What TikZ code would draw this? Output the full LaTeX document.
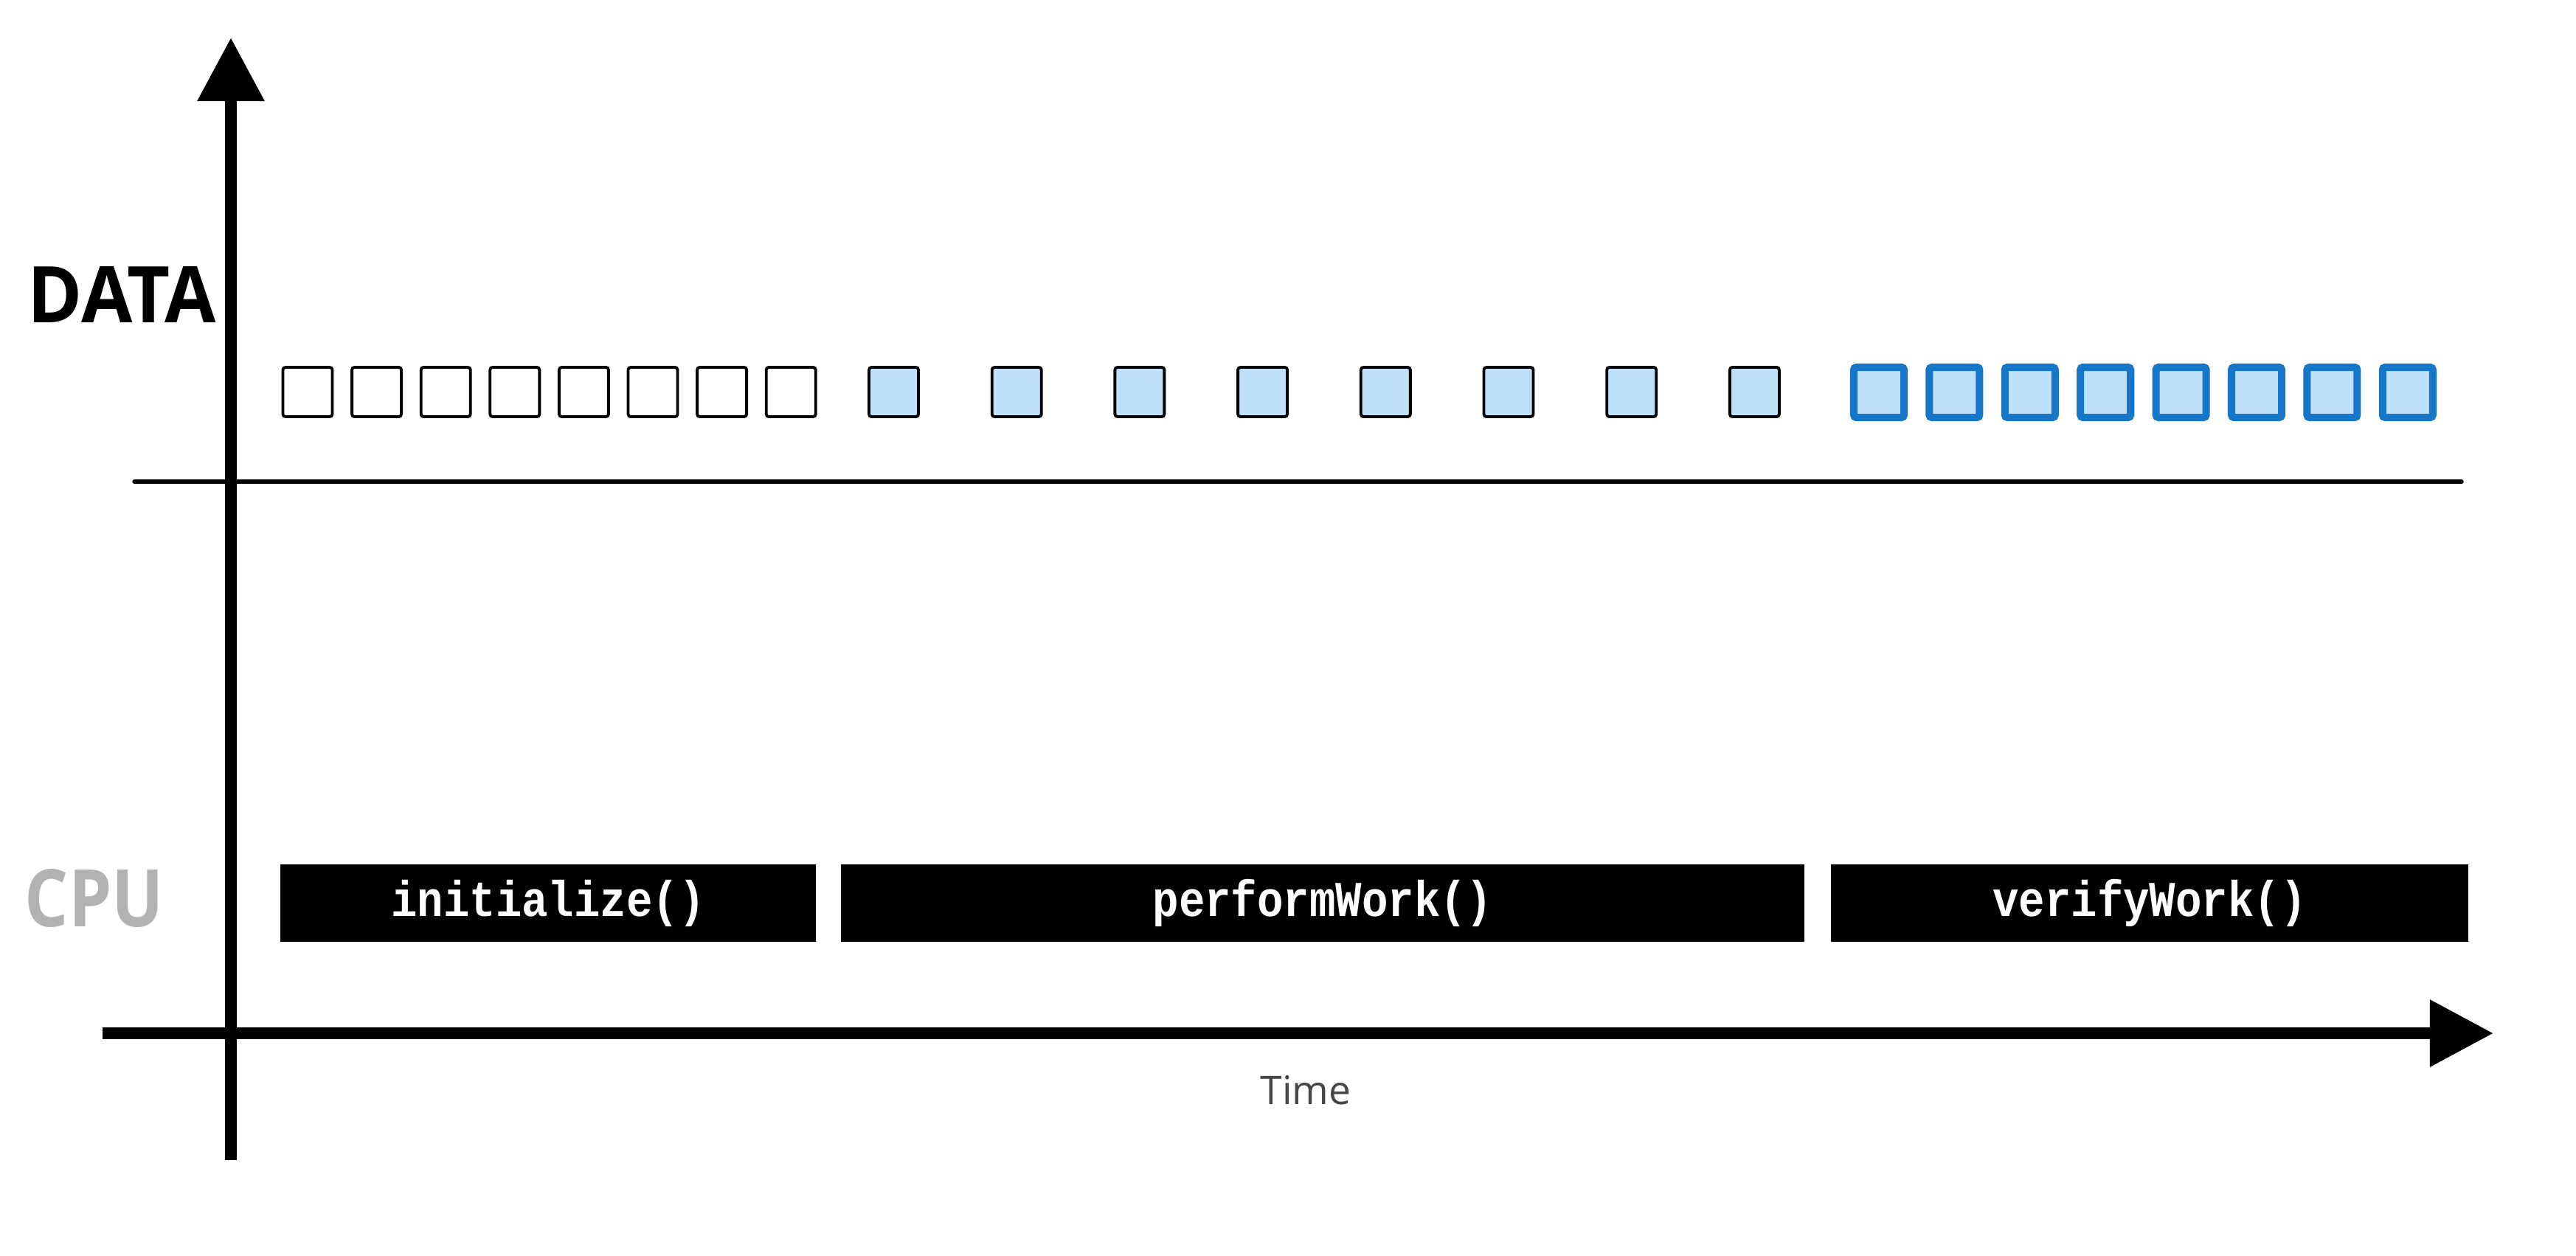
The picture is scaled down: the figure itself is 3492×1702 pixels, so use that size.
\documentclass[tikz,border=0pt]{standalone}
\usepackage{graphicx}
\usepackage{fontspec}
\usetikzlibrary{arrows.meta}
\newfontfamily\labelfont{Open Sans}
\newfontfamily\codefont{Liberation Mono}
\definecolor{cpugray}{RGB}{178,178,178}
\definecolor{timegray}{RGB}{70,70,70}
\definecolor{lightblue}{RGB}{190,224,249}
\definecolor{deepblue}{RGB}{22,118,200}
\newcommand{\tallcode}[1]{\scalebox{1}[1.15]{#1}}
\begin{document}
\begin{tikzpicture}[x=0.01cm,y=-0.01cm,
  cell/.style={draw=black, line width=1.1pt, minimum width=0.67cm, minimum height=0.67cm, inner sep=0pt, rounded corners=1pt},
  emptycell/.style={cell, fill=white},
  filledcell/.style={cell, fill=lightblue},
  verifiedcell/.style={cell, draw=deepblue, fill=lightblue, line width=2.85pt, minimum width=0.68cm, minimum height=0.68cm},
  task/.style={fill=black, text=white, inner sep=0pt, minimum height=1.05cm, text height=0.45cm, text depth=0.1cm, font=\codefont\bfseries\fontsize{16.8}{20}\selectfont},
  axis/.style={line width=4.6pt, -{Triangle[width=0.87cm,length=0.86cm]}},
  baseline/.style={line width=1.5pt, line cap=round}
]
\useasboundingbox (0,0) rectangle (3492,1702);
\fill[white] (0,0) rectangle (3492,1702);

% axes
\coordinate (yb) at (313,1573);
\coordinate (yt) at (313,51);
\draw[axis] (yb) -- (yt);
\coordinate (xl) at (139,1401);
\coordinate (xr) at (3380,1401);
\draw[axis] (xl) -- (xr);
\coordinate (dl) at (182,653);
\coordinate (dr) at (3337,653);
\draw[baseline] (dl) -- (dr);

% labels
\node[inner sep=0pt] (data) at (165.5,399) {\resizebox{2.55cm}{0.76cm}{\labelfont\bfseries DATA}};
\node[inner sep=0pt, text=cpugray] (cpu) at (128,1218) {\resizebox{1.88cm}{0.78cm}{\labelfont\bfseries CPU}};
\node[inner sep=0pt, text=timegray, font=\labelfont\fontsize{15.2}{18}\selectfont] (time) at (1770,1478) {Time};

% data cells
\foreach \i in {0,...,7} {
  \node[emptycell] (e\i) at ({417+93.6*\i},531.5) {};
  \node[filledcell] (f\i) at ({1211.5+166.7*\i},531.5) {};
  \node[verifiedcell] (v\i) at ({2547+102.4*\i},532) {};
}

% CPU tasks
\node[task, minimum width=7.26cm] (init) at (743,1224.5) {\tallcode{initialize()}};
\node[task, minimum width=13.06cm] (perf) at (1793,1224.5) {\tallcode{performWork()}};
\node[task, minimum width=8.64cm] (verif) at (2914,1224.5) {\tallcode{verifyWork()}};
\end{tikzpicture}
\end{document}
